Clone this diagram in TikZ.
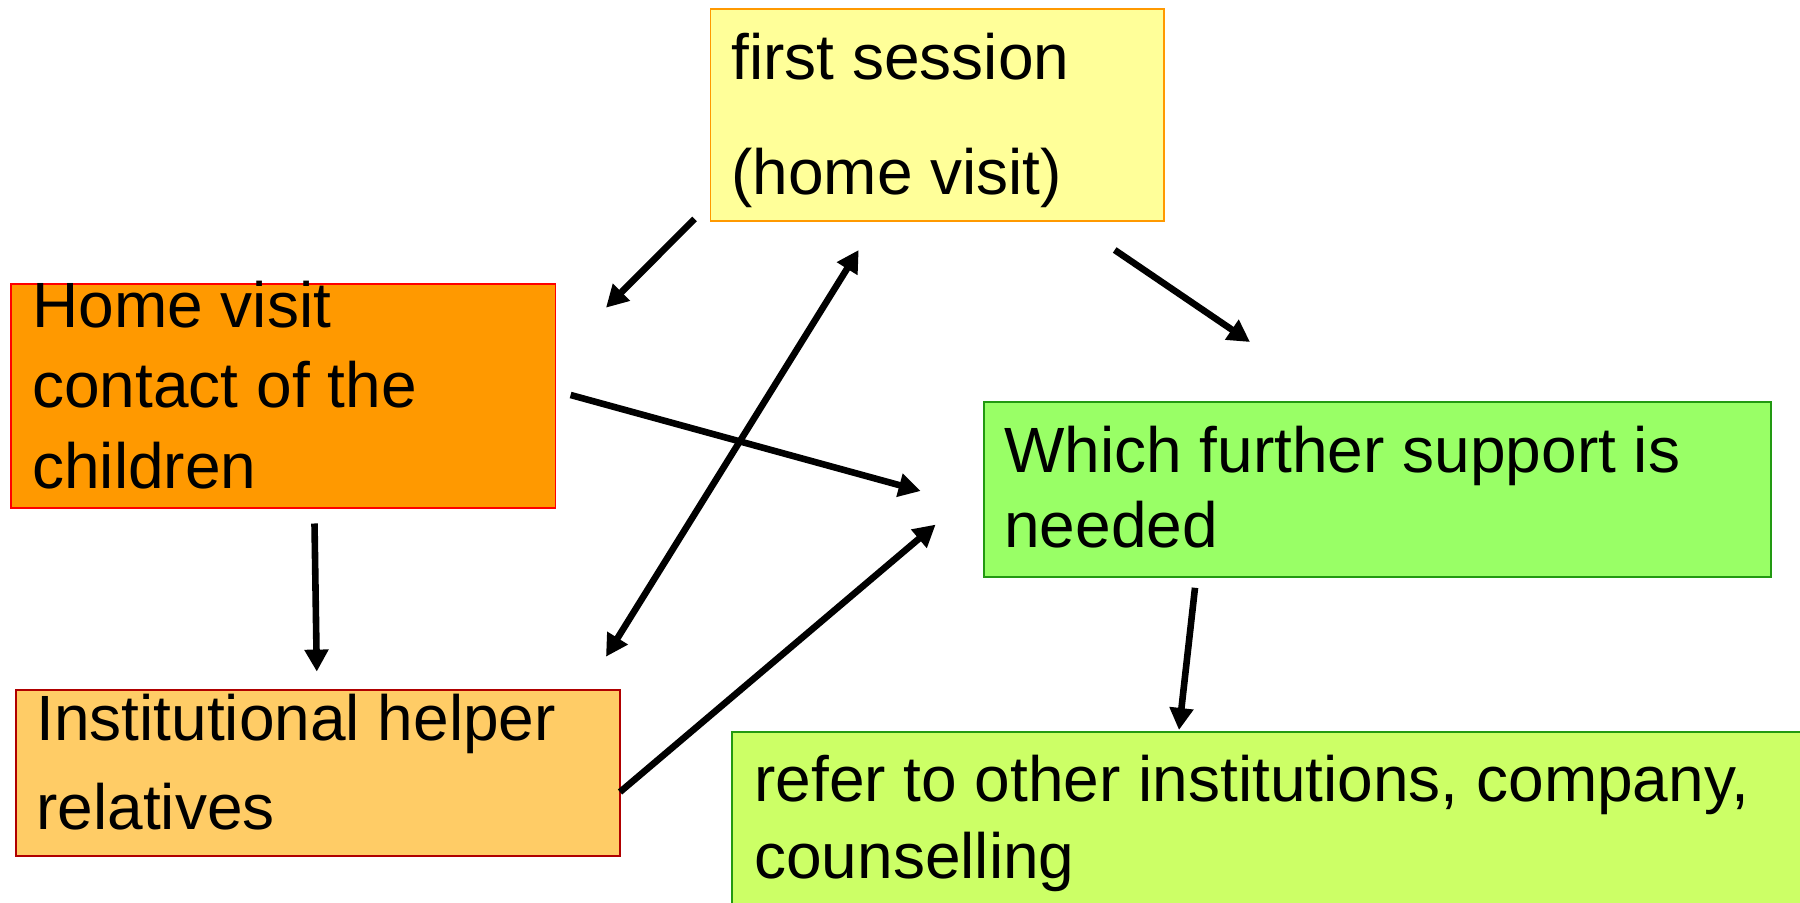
\documentclass[tikz,border=0pt]{standalone}
\usepackage{fontspec}
\setmainfont{Liberation Sans}
\usetikzlibrary{arrows.meta}
\definecolor{ylwfill}{HTML}{FFFF99}
\definecolor{ylwline}{HTML}{FF9900}
\definecolor{orgfill}{HTML}{FF9900}
\definecolor{orgline}{HTML}{FF0000}
\definecolor{grnfill}{HTML}{99FF66}
\definecolor{grnline}{HTML}{229911}
\definecolor{ltofill}{HTML}{FFCC66}
\definecolor{ltoline}{HTML}{B00000}
\definecolor{limfill}{HTML}{CCFF66}
\begin{document}
\begin{tikzpicture}[x=0.5pt,y=-0.5pt,
  box/.style={draw, line width=0.9pt, inner sep=0pt, anchor=north west},
  txt/.style={anchor=base west, inner sep=0pt, font=\fontsize{32}{38}\selectfont},
  tip/.tip={Triangle[length=11pt,width=11.5pt]},
  arr/.style={line width=3.3pt, -tip},
  dblarr/.style={line width=3.3pt, tip-tip},
]
\useasboundingbox (0,0) rectangle (1800,903);
\clip (0,0) rectangle (1800,903);

% boxes
\node[box, fill=ylwfill, draw=ylwline, minimum width=226.75pt, minimum height=106.25pt] (first) at (709.5,8) {};
\node[box, fill=orgfill, draw=orgline, minimum width=272.25pt, minimum height=112pt] (home) at (10,283.5) {};
\node[box, fill=grnfill, draw=grnline, minimum width=393.5pt, minimum height=87.5pt] (which) at (983,401) {};
\node[box, fill=ltofill, draw=ltoline, minimum width=302pt, minimum height=83pt] (inst) at (15,689) {};
\node[box, fill=limfill, draw=grnline, minimum width=550pt, minimum height=100pt] (refer) at (731,731) {};

% texts
\node[txt] (t1) at (731,80) {first session};
\node[txt] (t2) at (731,195) {(home visit)};
\node[txt] (t3) at (32,328) {Home visit};
\node[txt] (t4) at (32,408) {contact of the};
\node[txt] (t5) at (32,489) {children};
\node[txt] (t6) at (1004,473) {Which further support is};
\node[txt] (t7) at (1004,548) {needed};
\node[txt] (t8) at (36,740) {Institutional helper};
\node[txt] (t9) at (36,829) {relatives};
\node[txt] (t10) at (754,801.5) {refer to other institutions, company,};
\node[txt] (t11) at (754,878) {counselling};

% connector end points
\coordinate (a1) at (694.5,219);
\coordinate (a2) at (606,307.7);
\coordinate (b1) at (858.7,250);
\coordinate (b2) at (606,656.7);
\coordinate (c1) at (1114.7,250);
\coordinate (c2) at (1250,342);
\coordinate (d1) at (570.6,395);
\coordinate (d2) at (920.7,491);
\coordinate (e1) at (314.5,523.5);
\coordinate (e2) at (316.8,671.6);
\coordinate (f1) at (620,792);
\coordinate (f2) at (935.6,524.6);
\coordinate (g1) at (1195,587.8);
\coordinate (g2) at (1179,730);

% connectors
\draw[arr] (a1) -- (a2);
\draw[dblarr] (b1) -- (b2);
\draw[arr] (c1) -- (c2);
\draw[arr] (d1) -- (d2);
\draw[arr] (e1) -- (e2);
\draw[arr] (f1) -- (f2);
\draw[arr] (g1) -- (g2);
\end{tikzpicture}
\end{document}
